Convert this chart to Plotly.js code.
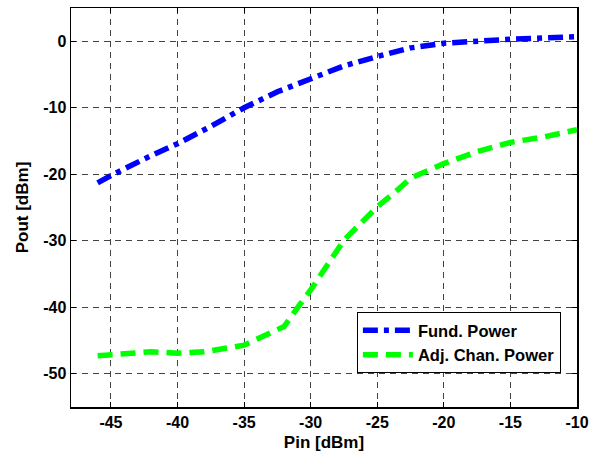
<!DOCTYPE html>
<html>
<head>
<meta charset="utf-8">
<script src="https://cdn.plot.ly/plotly-3.0.1.min.js"></script>
<style>html,body{margin:0;padding:0;background:#fff;}#chart{width:592px;height:457px;}</style>
</head>
<body>
<div id="chart"></div>
<script>
const fundPin = [-46, -45, -42.5, -40, -37.5, -35, -32.5, -30, -27.5, -25, -22.5, -20, -17.5, -15, -12.5, -10];
const fundPout = [-21.3, -20.2, -17.7, -15.4, -12.8, -10.0, -7.6, -5.7, -3.7, -2.3, -1.0, -0.3, 0.05, 0.3, 0.5, 0.7];
const adjPin = [-46, -45, -42, -40, -38, -35, -33, -32, -31, -30, -27.5, -25, -23.5, -22.5, -20, -17.5, -15, -12.5, -10];
const adjPout = [-47.3, -47.1, -46.7, -46.9, -46.7, -45.7, -43.9, -42.9, -40.1, -37.4, -29.9, -24.9, -22.4, -20.6, -18.4, -16.6, -15.2, -14.4, -13.3];
const seriesNames = ["Fund. Power", "Adj. Chan. Power"];
const xTicks = [-45, -40, -35, -30, -25, -20, -15, -10];
const yTicks = [0, -10, -20, -30, -40, -50];

const fam = "Liberation Sans, Arial, sans-serif";
const tickFont = {family: fam, size: 16, color: "#000", weight: "bold"};
const titleFont = {family: fam, size: 17, color: "#000", weight: "bold"};
const legendFont = {family: fam, size: 16.5, color: "#000", weight: "bold"};
const axisCommon = {
  showline: true, linecolor: "#000", linewidth: 1.5, mirror: "ticks",
  ticks: "inside", ticklen: 5, tickcolor: "#000", tickwidth: 1,
  showgrid: true, gridcolor: "#444", gridwidth: 1, griddash: "6px,5px",
  zeroline: false, tickfont: tickFont
};
const data = [
  {x: fundPin, y: fundPout, name: seriesNames[0], mode: "lines",
   line: {color: "#0000ff", width: 5.5, dash: "15px,6px,5px,6px"}},
  {x: adjPin, y: adjPout, name: seriesNames[1], mode: "lines",
   line: {color: "#00ff00", width: 5.5, dash: "15px,8px"}}
];
const layout = {
  width: 592, height: 457,
  margin: {l: 70.5, r: 15, t: 8, b: 50},
  paper_bgcolor: "#fff", plot_bgcolor: "#fff",
  font: tickFont,
  showlegend: true,
  xaxis: Object.assign({}, axisCommon, {range: [-48, -10], tickmode: "array",
    tickvals: xTicks, ticktext: xTicks.map(String),
    title: {text: "Pin [dBm]", font: titleFont, standoff: 6}}),
  yaxis: Object.assign({}, axisCommon, {range: [-55, 5], tickmode: "array",
    tickvals: yTicks, ticktext: yTicks.map(String),
    title: {text: "Pout [dBm]", font: titleFont, standoff: 10}}),
  legend: {x: 0.565, y: 0.238, xanchor: "left", yanchor: "top",
    bgcolor: "#fff", bordercolor: "#000", borderwidth: 1,
    font: legendFont, itemwidth: 50, tracegroupgap: 0}
};
Plotly.newPlot("chart", data, layout, {staticPlot: true});
</script>
</body>
</html>
